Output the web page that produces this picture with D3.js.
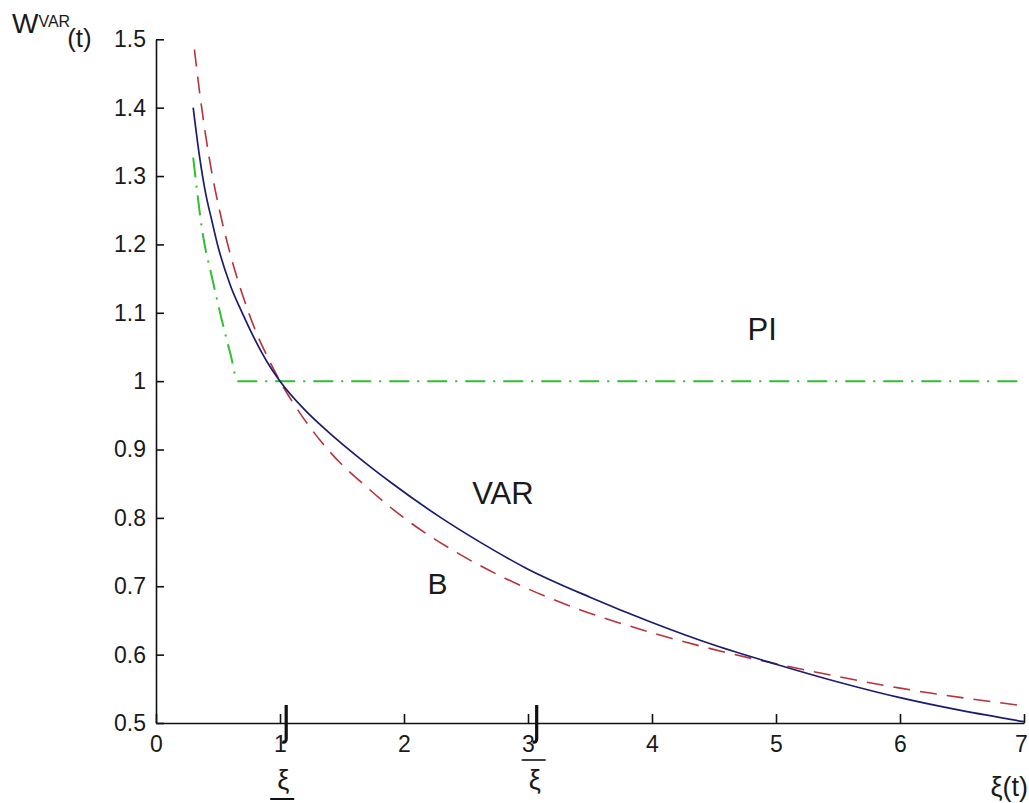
<!DOCTYPE html>
<html>
<head>
<meta charset="utf-8">
<script src="https://cdn.jsdelivr.net/npm/d3@7"></script>
<style>
  body { margin: 0; background: #fff; }
  text { font-family: "Liberation Sans", Arial, sans-serif; fill: #1a1a1a; }
</style>
</head>
<body>
<div id="main"></div>
<script>
var ctx = {
    w: 1029,
    h: 803,
    left: 156,
    right: 1024,
    top: 39.3,
    bottom: 723
};

// values
var xTicks = [0, 1, 2, 3, 4, 5, 6, 7];
var yTicks = [0.5, 0.6, 0.7, 0.8, 0.9, 1.0, 1.1, 1.2, 1.3, 1.4, 1.5];
var yTickLabels = ["0.5", "0.6", "0.7", "0.8", "0.9", "1", "1.1", "1.2", "1.3", "1.4", "1.5"];

var varX = [0.3, 0.35, 0.4, 0.45, 0.5, 0.6, 0.7, 0.8, 0.9, 1.0, 1.2, 1.4, 1.65, 1.9, 2.3, 2.6, 3.0, 3.5, 4.0, 4.5, 5.0, 5.5, 6.0, 6.5, 7.0];
var varY = [1.40, 1.33, 1.275, 1.235, 1.197, 1.14, 1.098, 1.06, 1.027, 1.0, 0.958, 0.924, 0.886, 0.851, 0.800, 0.766, 0.725, 0.684, 0.647, 0.614, 0.586, 0.560, 0.537, 0.518, 0.502];

var bX = [0.31, 0.35, 0.4, 0.45, 0.5, 0.6, 0.7, 0.8, 0.9, 1.0, 1.2, 1.4, 1.7, 2.0, 2.4, 2.8, 3.4, 4.0, 4.6, 5.2, 6.0, 7.0];
var bY = [1.485, 1.425, 1.36, 1.305, 1.26, 1.185, 1.125, 1.075, 1.035, 1.0, 0.943, 0.897, 0.845, 0.800, 0.752, 0.713, 0.667, 0.632, 0.603, 0.579, 0.551, 0.525];

var piX = [0.3, 0.38, 0.45, 0.53, 0.6, 0.66, 7.0];
var piY = [1.327, 1.212, 1.153, 1.09, 1.04, 1.0, 1.0];

// the two hand-drawn marks on the x axis (lower and upper xi)
var xiMarks = [1.05, 3.07];

var zip = function(xs, ys){
    var out = [];
    for(var i = 0; i < xs.length; i++){
        out.push({x: xs[i], y: ys[i]});
    }
    return out;
};

var createViz = function(){
    var svg = d3.select("#main").append("svg")
        .attr("width", ctx.w)
        .attr("height", ctx.h);

    var x = d3.scaleLinear().domain([0, 7]).range([ctx.left, ctx.right]);
    var y = d3.scaleLinear().domain([0.5, 1.5]).range([ctx.bottom, ctx.top]);

    var line = d3.line()
        .x(function(d){ return x(d.x); })
        .y(function(d){ return y(d.y); })
        .curve(d3.curveMonotoneX);

    // curves
    svg.append("path").datum(zip(piX, piY))
        .attr("d", line)
        .attr("fill", "none")
        .attr("stroke", "#2fbf2f")
        .attr("stroke-width", 2)
        .attr("stroke-dasharray", "20,8,2,8");

    svg.append("path").datum(zip(bX, bY))
        .attr("d", line)
        .attr("fill", "none")
        .attr("stroke", "#b8323a")
        .attr("stroke-width", 1.6)
        .attr("stroke-dasharray", "17,10");

    svg.append("path").datum(zip(varX, varY))
        .attr("d", line)
        .attr("fill", "none")
        .attr("stroke", "#1c1c6e")
        .attr("stroke-width", 1.7);

    // axes, ticks pointing inward
    var xAxis = d3.axisBottom(x).tickValues(xTicks)
        .tickSizeInner(-9).tickSizeOuter(0).tickPadding(13)
        .tickFormat(d3.format("d"));
    var yAxis = d3.axisLeft(y).tickValues(yTicks)
        .tickSizeInner(-8).tickSizeOuter(0).tickPadding(10)
        .tickFormat(function(d, i){ return yTickLabels[i]; });

    var gx = svg.append("g").attr("transform", "translate(0," + ctx.bottom + ")").call(xAxis);
    var gy = svg.append("g").attr("transform", "translate(" + ctx.left + ",0)").call(yAxis);

    [gx, gy].forEach(function(g){
        g.selectAll("path, line").attr("stroke", "#111").attr("stroke-width", 1.6);
        g.selectAll("text").attr("font-size", 23).attr("fill", "#1a1a1a")
            .attr("font-family", "'Liberation Sans', Arial, sans-serif");
    });
    // last label sits on the window edge, nudge it inside
    gx.selectAll(".tick text").filter(function(d){ return d === 7; }).attr("dx", -3);

    // hand-drawn xi marks
    svg.append("g").selectAll("path")
        .data(xiMarks)
        .enter()
        .append("path")
        .attr("d", function(d){
            var px = x(d);
            return "M" + px + "," + (ctx.bottom - 18) + "V" + (ctx.bottom + 16)
                 + "Q" + px + "," + (ctx.bottom + 20) + " " + (px - 4) + "," + (ctx.bottom + 19);
        })
        .attr("fill", "none")
        .attr("stroke", "#111")
        .attr("stroke-width", 3.2);

    // lower xi (underlined) and upper xi (bar above)
    var lo = x(xiMarks[0]) - 3;
    svg.append("text").attr("x", lo).attr("y", 789)
        .attr("text-anchor", "middle").attr("font-size", 27).text("ξ");
    svg.append("line").attr("x1", lo - 13).attr("x2", lo + 11)
        .attr("y1", 799).attr("y2", 799)
        .attr("stroke", "#111").attr("stroke-width", 2);

    var hi = x(xiMarks[1]) - 3;
    svg.append("line").attr("x1", hi - 12).attr("x2", hi + 12)
        .attr("y1", 760).attr("y2", 760)
        .attr("stroke", "#111").attr("stroke-width", 1.6);
    svg.append("text").attr("x", hi + 1).attr("y", 789)
        .attr("text-anchor", "middle").attr("font-size", 27).text("ξ");

    // curve labels
    svg.append("text").attr("x", x(4.77)).attr("y", y(1.06))
        .attr("font-size", 31).text("PI");
    svg.append("text").attr("x", x(2.55)).attr("y", y(0.821))
        .attr("font-size", 31).text("VAR");
    svg.append("text").attr("x", x(2.19)).attr("y", y(0.689))
        .attr("font-size", 30).text("B");

    // axis titles
    var yt = svg.append("text").attr("x", 12).attr("y", 47);
    yt.append("tspan").attr("font-size", 28).attr("dy", -14).text("W");
    yt.append("tspan").attr("font-size", 16).attr("dy", -6).text("VAR");
    yt.append("tspan").attr("font-size", 26).attr("dx", -3).attr("dy", 20).text("(t)");

    svg.append("text").attr("x", 1028).attr("y", 796)
        .attr("text-anchor", "end").attr("font-size", 27).text("ξ(t)");
};

createViz();
</script>
</body>
</html>
